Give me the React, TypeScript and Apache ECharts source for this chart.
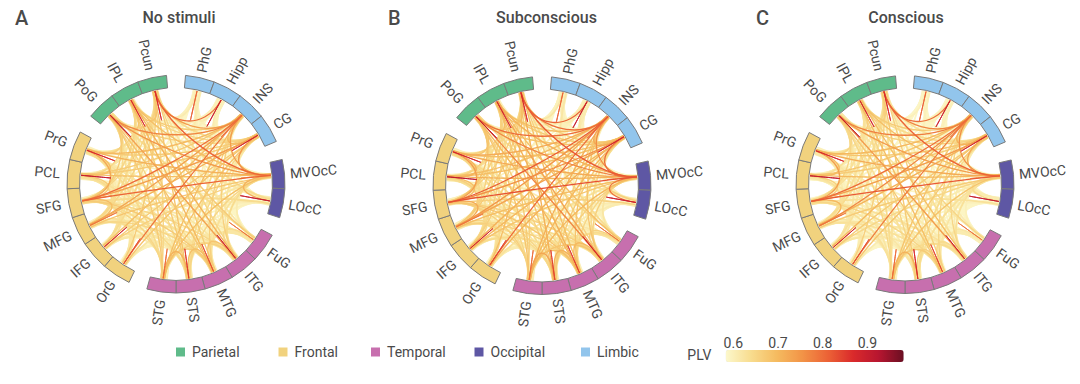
import React, { useEffect, useRef } from "react";
import * as echarts from "echarts";

const FONT = "Roboto, 'Noto Sans', sans-serif";
const INK = "#4a4a4a";

const nodes = ["PhG", "Hipp", "INS", "CG", "MVOcC", "LOcC", "FuG", "ITG", "MTG", "STS", "STG", "OrG", "IFG", "MFG", "SFG", "PCL", "PrG", "PoG", "IPL", "Pcun"];
const lobeNames = ["Parietal", "Frontal", "Temporal", "Occipital", "Limbic"];
const lobeColors = ["#5fbb8a", "#f1d27e", "#c76fae", "#5e57a4", "#92c5ec"];
// lobe index of each node, and the angle (degrees clockwise from the top) at which each lobe starts
const nodeLobe = [4, 4, 4, 4, 3, 3, 2, 2, 2, 2, 2, 1, 1, 1, 1, 1, 1, 0, 0, 0];
const lobeStart = [308.5, 205.5, 118, 77, 5];
const firstNodeOfLobe = [17, 11, 6, 4, 0];
const SEGMENT_DEG = 15.5;

const panelTitles = ["No stimuli", "Subconscious", "Conscious"];
const panelLetters = ["A", "B", "C"];
const plvTicks = ["0.6", "0.7", "0.8", "0.9"];
const plvStops = ["#fcf8cc", "#f8dc8e", "#f5bb60", "#f29447", "#ec6336", "#da2a2b", "#b81630", "#6a0f22"];

// PLV x 100, upper triangle of the node-by-node matrix, row i holds columns i+1..19
const noStimuli = [
  [61, 60, 59, 59, 58, 59, 59, 60, 61, 60, 59, 59, 59, 60, 59, 59, 59, 60, 61],
  [61, 60, 59, 59, 59, 60, 60, 60, 60, 59, 59, 60, 59, 59, 59, 60, 60, 80],
  [70, 74, 59, 59, 66, 66, 64, 69, 79, 69, 73, 80, 67, 70, 77, 67, 74],
  [75, 59, 59, 62, 62, 65, 68, 68, 67, 71, 74, 67, 67, 66, 65, 64],
  [71, 61, 64, 63, 65, 69, 62, 66, 68, 81, 69, 71, 75, 69, 81],
  [59, 59, 59, 59, 60, 59, 60, 61, 64, 60, 60, 62, 60, 64],
  [64, 62, 60, 62, 59, 59, 60, 62, 60, 61, 64, 67, 62],
  [68, 64, 66, 60, 61, 63, 65, 62, 62, 73, 71, 65],
  [69, 67, 60, 62, 65, 67, 63, 63, 68, 70, 67],
  [71, 60, 61, 62, 64, 61, 62, 65, 67, 68],
  [60, 61, 64, 65, 62, 64, 67, 66, 65],
  [63, 61, 62, 60, 60, 62, 62, 67],
  [63, 62, 60, 61, 63, 63, 64],
  [69, 64, 62, 64, 64, 65],
  [67, 72, 67, 65, 65],
  [69, 65, 62, 62],
  [66, 64, 62],
  [68, 66],
  [68],
];
const subconscious = [
  [61, 60, 59, 59, 58, 59, 60, 60, 62, 60, 59, 59, 60, 60, 59, 60, 59, 60, 62],
  [62, 60, 59, 59, 60, 60, 60, 61, 61, 59, 59, 60, 60, 59, 59, 60, 61, 81],
  [72, 76, 60, 60, 68, 68, 66, 71, 80, 71, 75, 82, 69, 72, 80, 69, 80],
  [80, 60, 59, 64, 64, 67, 70, 71, 70, 73, 76, 69, 69, 68, 67, 66],
  [79, 62, 66, 65, 66, 70, 63, 68, 69, 83, 71, 72, 77, 71, 82],
  [60, 60, 60, 59, 61, 59, 60, 61, 66, 61, 60, 63, 60, 66],
  [66, 64, 61, 63, 59, 60, 61, 62, 60, 61, 65, 69, 64],
  [70, 66, 68, 60, 62, 64, 66, 63, 64, 77, 73, 66],
  [71, 69, 61, 64, 66, 68, 64, 65, 70, 71, 69],
  [73, 61, 62, 64, 65, 62, 64, 66, 68, 71],
  [61, 62, 65, 66, 63, 65, 68, 67, 66],
  [65, 63, 63, 60, 61, 63, 64, 69],
  [65, 64, 61, 63, 64, 65, 66],
  [72, 66, 64, 66, 66, 67],
  [69, 74, 68, 66, 66],
  [71, 66, 64, 63],
  [68, 66, 64],
  [69, 67],
  [69],
];
const conscious = [
  [60, 59, 59, 58, 58, 59, 59, 59, 60, 59, 59, 58, 59, 59, 59, 59, 59, 59, 60],
  [60, 59, 59, 59, 59, 59, 59, 60, 60, 59, 59, 59, 59, 59, 59, 59, 60, 80],
  [71, 76, 59, 59, 65, 65, 63, 68, 78, 70, 77, 80, 68, 70, 78, 67, 77],
  [72, 59, 59, 61, 61, 64, 67, 68, 67, 71, 74, 67, 68, 66, 64, 63],
  [64, 60, 63, 62, 63, 68, 61, 65, 67, 82, 70, 72, 74, 69, 81],
  [59, 59, 59, 59, 59, 59, 59, 60, 63, 59, 60, 61, 59, 61],
  [62, 61, 59, 61, 59, 59, 59, 60, 59, 60, 62, 65, 61],
  [64, 62, 64, 59, 60, 62, 63, 60, 61, 74, 69, 63],
  [66, 67, 59, 62, 63, 65, 62, 62, 67, 69, 66],
  [71, 59, 60, 61, 62, 60, 61, 63, 65, 67],
  [59, 60, 62, 63, 60, 62, 65, 64, 63],
  [62, 61, 60, 59, 59, 61, 61, 66],
  [62, 61, 59, 60, 62, 62, 63],
  [70, 63, 61, 63, 63, 64],
  [66, 74, 65, 63, 63],
  [70, 63, 61, 60],
  [65, 63, 61],
  [66, 65],
  [66],
];
// PLV x 100 of each node with itself (the short dark spikes)
const selfNoStimuli = [81, 89, 79, 88, 74, 90, 79, 89, 83, 85, 80, 83, 88, 79, 74, 90, 87, 91, 87, 87];
const selfSubconscious = [81, 90, 81, 88, 74, 89, 79, 88, 85, 84, 80, 84, 88, 79, 74, 91, 88, 91, 88, 87];
const selfConscious = [81, 89, 79, 88, 74, 90, 79, 89, 84, 87, 80, 83, 88, 79, 74, 90, 87, 91, 88, 87];

const matrices = [noStimuli, subconscious, conscious];
const selfs = [selfNoStimuli, selfSubconscious, selfConscious];

// layout
const panelCenters = [[176, 184], [542, 185.5], [905, 184.5]];
const titleCenters = [179, 546.5, 906];
const letterLefts = [15, 388, 756];
const OUTER = 109;
const INNER_RATIO = 0.885;
const ANCHOR_RATIO = 0.875;
const PULL = 0.62;
const SPIKE_PULL = 0.58;
const FAN_DEG = 2.4;

const nodeAngle = (i: number) => {
  const l = nodeLobe[i];
  return lobeStart[l] + (i - firstNodeOfLobe[l] + 0.5) * SEGMENT_DEG;
};
const rad = (d: number) => (d * Math.PI) / 180;
const pt = (deg: number, r: number) => [Math.sin(rad(deg)) * r, Math.cos(rad(deg)) * r];

function linkData(m: number[][], self: number[]) {
  const rows: number[][] = [];
  m.forEach((row, i) => row.forEach((v, k) => {
    if (v >= 59) rows.push([i, i + 1 + k, v / 100]);
  }));
  self.forEach((v, i) => rows.push([i, i, v / 100]));
  return rows.sort((a, b) => a[2] - b[2]);
}

function renderLink(_: any, api: any) {
  const a = api.value(0);
  const b = api.value(1);
  const v = api.value(2);
  const color = api.visual("color");
  if (a === b) {
    const p = api.coord(pt(nodeAngle(a), ANCHOR_RATIO));
    const c = api.coord(pt(nodeAngle(a), ANCHOR_RATIO * SPIKE_PULL));
    return {
      type: "bezierCurve",
      shape: { x1: p[0], y1: p[1], x2: p[0], y2: p[1], cpx1: c[0], cpy1: c[1], cpx2: c[0], cpy2: c[1] },
      style: { stroke: color, fill: "none", lineWidth: 1 },
    };
  }
  const t1 = nodeAngle(a);
  const t2 = nodeAngle(b);
  let d = t2 - t1;
  if (d > 180) d -= 360;
  if (d < -180) d += 360;
  const fan = FAN_DEG * Math.max(0, Math.min(1, (0.76 - v) / 0.16));
  const p1 = pt(t1 + (d / 180) * fan, ANCHOR_RATIO);
  const p2 = pt(t2 - (d / 180) * fan, ANCHOR_RATIO);
  const s = api.coord(p1);
  const e = api.coord(p2);
  const c1 = api.coord([p1[0] * PULL, p1[1] * PULL]);
  const c2 = api.coord([p2[0] * PULL, p2[1] * PULL]);
  return {
    type: "bezierCurve",
    shape: { x1: s[0], y1: s[1], x2: e[0], y2: e[1], cpx1: c1[0], cpy1: c1[1], cpx2: c2[0], cpy2: c2[1] },
    style: { stroke: color, fill: "none", lineWidth: v >= 0.76 ? 1.3 : v >= 0.65 ? 1.4 : 1.8 },
  };
}

function renderSegment(_: any, api: any) {
  const i = api.value(0);
  const th = nodeAngle(i);
  const c = api.coord([0, 0]);
  const R = api.size([1, 1])[0];
  const right = th < 180;
  const lp = api.coord(pt(th, right ? 1.05 : 1.07));
  const deg = right ? 90 - th : 270 - th;
  return {
    type: "group",
    children: [
      {
        type: "sector",
        shape: {
          cx: c[0], cy: c[1], r: R, r0: R * INNER_RATIO,
          startAngle: rad(th - SEGMENT_DEG / 2 - 90), endAngle: rad(th + SEGMENT_DEG / 2 - 90), clockwise: true,
        },
        style: { fill: api.visual("color"), stroke: "#7a7a7a", lineWidth: 1 },
      },
      {
        type: "text",
        x: lp[0], y: lp[1], rotation: rad(deg),
        style: { text: nodes[i], align: right ? "left" : "right", verticalAlign: "middle", fill: INK, font: `14px ${FONT}` },
      },
    ],
  };
}

export default function App() {
  const ref = useRef<HTMLDivElement>(null);
  useEffect(() => {
    const chart = echarts.init(ref.current!, null, { renderer: "svg" });
    const grids = panelCenters.map(([x, y]) => ({ left: x - OUTER, top: y - OUTER, width: 2 * OUTER, height: 2 * OUTER, show: false }));
    const axis = panelCenters.map((_, i) => ({ type: "value", gridIndex: i, min: -1, max: 1, show: false }));
    const series: any[] = [];
    const linkIdx: number[] = [];
    panelCenters.forEach((_, p) => {
      linkIdx.push(series.length);
      series.push({
        type: "custom", name: "links" + p, coordinateSystem: "cartesian2d", xAxisIndex: p, yAxisIndex: p,
        data: linkData(matrices[p], selfs[p]), renderItem: renderLink, silent: true, clip: false,
        dimensions: ["from", "to", "plv"], encode: { x: 0, y: 1 }, z: 2,
      });
      lobeNames.forEach((name, l) => {
        series.push({
          type: "custom", name, coordinateSystem: "cartesian2d", xAxisIndex: p, yAxisIndex: p,
          data: nodes.map((_n, i) => i).filter((i) => nodeLobe[i] === l).map((i) => [i, 0]),
          renderItem: renderSegment, silent: true, clip: false, itemStyle: { color: lobeColors[l] }, z: 3,
        });
      });
    });
    const legendLefts = [176, 278.5, 371, 474.5, 581];
    chart.setOption({
      animation: false,
      backgroundColor: "#ffffff",
      grid: grids,
      xAxis: axis,
      yAxis: axis,
      title: [
        ...panelTitles.map((text, i) => ({
          text, left: titleCenters[i], top: 9, textAlign: "center", padding: 0,
          textStyle: { fontFamily: FONT, fontSize: 16, fontWeight: 500, color: INK },
        })),
        ...panelLetters.map((text, i) => ({
          text, left: letterLefts[i], top: 8, padding: 0,
          textStyle: { fontFamily: FONT, fontSize: 20, fontWeight: 500, color: INK },
        })),
      ],
      legend: lobeNames.map((name, i) => ({
        data: [name], left: legendLefts[i], top: 345, padding: 0, icon: "rect", itemWidth: 9, itemHeight: 9, itemGap: 0,
        selectedMode: false, textStyle: { fontFamily: FONT, fontSize: 14, color: INK, padding: [0, 0, 0, 2] },
      })),
      visualMap: {
        type: "continuous", show: true, min: 0.583, max: 0.982, dimension: 2, seriesIndex: linkIdx,
        orient: "horizontal", left: 725.7, top: 350, itemWidth: 12, itemHeight: 178, padding: 0,
        calculable: false, realtime: false, hoverLink: false, showLabel: false,
        inRange: { color: plvStops }, textStyle: { color: "rgba(0,0,0,0)", fontSize: 1 },
      },
      graphic: [
        ...plvTicks.map((t, i) => ({
          type: "text", x: 733.3 + i * 44.7, y: 343,
          style: { text: t, align: "center", verticalAlign: "middle", fill: INK, font: `14px ${FONT}` },
        })),
        { type: "text", x: 687.3, y: 355, style: { text: "PLV", align: "left", verticalAlign: "middle", fill: INK, font: `14px ${FONT}` } },
      ],
      series,
    });
    return () => chart.dispose();
  }, []);
  return <div ref={ref} style={{ position: "absolute", left: 0, top: 0, width: 1080, height: 384 }} />;
}
